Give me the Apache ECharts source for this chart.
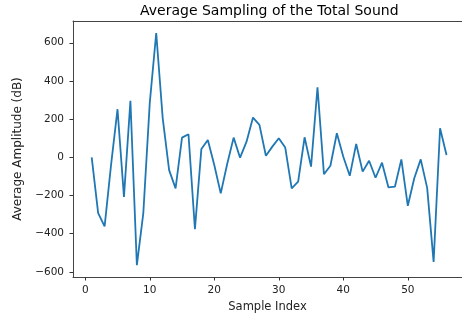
<!DOCTYPE html>
<html>
<head>
<meta charset="utf-8">
<script src="https://cdn.jsdelivr.net/npm/echarts@6/dist/echarts.min.js"></script>
<style>
  html, body { margin: 0; padding: 0; background: #fff; }
  #chart { width: 462px; height: 321px; }
</style>
</head>
<body>
<div id="chart"></div>
<script>
// sample amplitudes, index 1..56
const sampleIndex = Array.from({length: 56}, (_, i) => i + 1);
const amplitude = [
  0, -292, -362, -40, 252, -207, 296, -565, -292, 285,
  651, 207, -67, -163, 103, 121, -376, 44, 91, -40,
  -189, -35, 103, -2, 82, 208, 170, 8, 56, 100,
  51, -163, -128, 105, -49, 367, -89, -44, 126, 3,
  -97, 70, -75, -18, -107, -28, -158, -154, -11, -254,
  -110, -11, -160, -548, 152, 12
];
const xTicks = [0, 10, 20, 30, 40, 50];
const yTicks = [-600, -400, -200, 0, 200, 400, 600];

const font = 'DejaVu Sans';
const minus = v => String(v).replace('-', '\u2212');
const xMin = -1.9, xMax = 58.4; // axes box runs past the right edge of the picture

const chart = echarts.init(document.getElementById('chart'), null, {renderer: 'canvas'});
chart.setOption({
  animation: false,
  title: {
    text: 'Average Sampling of the Total Sound',
    left: 140,
    top: 4,
    padding: 0,
    textStyle: {fontFamily: font, fontSize: 14, fontWeight: 'normal', color: '#000'}
  },
  grid: {left: 73, right: 0, top: 21, bottom: 44},
  xAxis: [{
    type: 'value',
    min: xMin,
    max: xMax,
    name: 'Sample Index',
    nameLocation: 'middle',
    nameGap: 24,
    nameTextStyle: {fontFamily: font, fontSize: 11.5, color: '#222'},
    splitLine: {show: false},
    axisLine: {show: true, onZero: false, lineStyle: {color: '#444', width: 1}},
    axisTick: {show: true, length: 3.5, customValues: xTicks, lineStyle: {color: '#333'}},
    axisLabel: {customValues: xTicks, margin: 8, fontFamily: font, fontSize: 10.5, color: '#222', formatter: minus}
  }, {
    // top spine only
    type: 'value',
    position: 'top',
    min: xMin,
    max: xMax,
    splitLine: {show: false},
    axisLine: {show: true, onZero: false, lineStyle: {color: '#444', width: 1}},
    axisTick: {show: false},
    axisLabel: {show: false}
  }],
  yAxis: {
    type: 'value',
    min: -627,
    max: 714,
    name: 'Average Amplitude (dB)',
    nameLocation: 'middle',
    nameGap: 36,
    nameTextStyle: {fontFamily: font, fontSize: 12, color: '#222'},
    splitLine: {show: false},
    axisLine: {show: true, onZero: false, lineStyle: {color: '#444', width: 1}},
    axisTick: {show: true, length: 3.5, customValues: yTicks, lineStyle: {color: '#333'}},
    axisLabel: {customValues: yTicks, margin: 9, fontFamily: font, fontSize: 10.5, color: '#222', formatter: minus}
  },
  series: [{
    type: 'line',
    data: sampleIndex.map((x, i) => [x, amplitude[i]]),
    showSymbol: false,
    lineStyle: {color: '#1f77b4', width: 1.8},
    itemStyle: {color: '#1f77b4'}
  }]
});
</script>
</body>
</html>
